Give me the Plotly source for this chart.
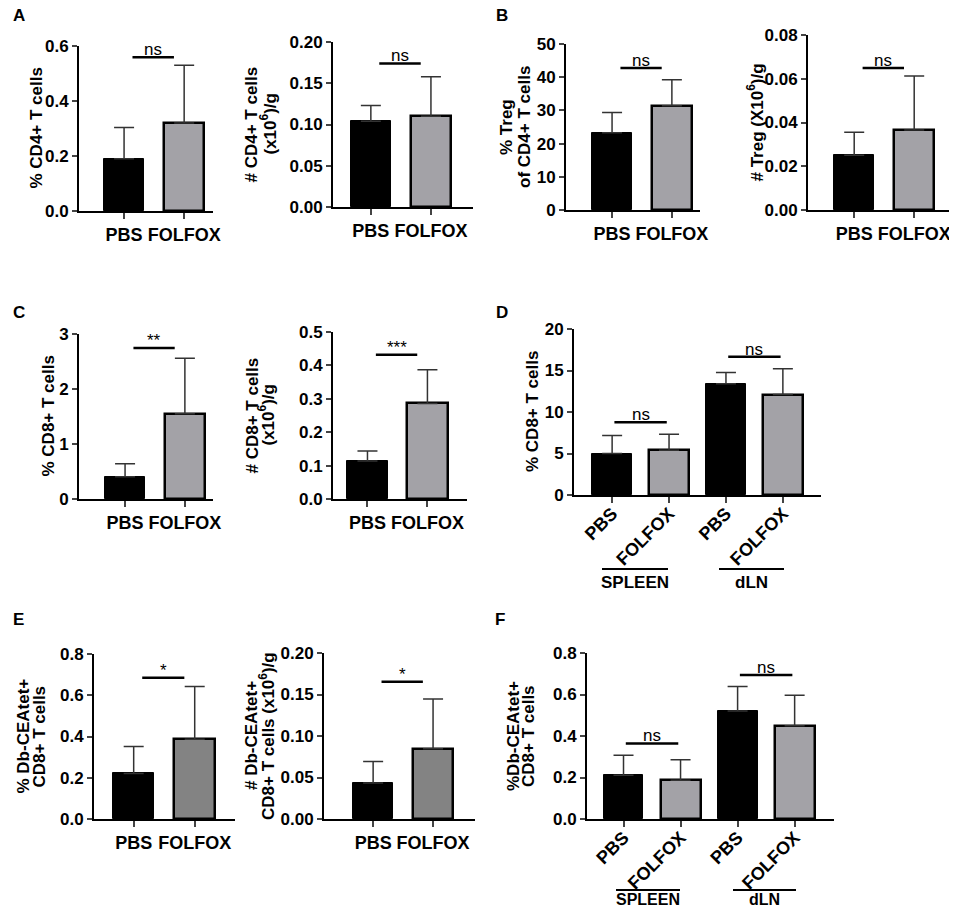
import plotly.graph_objects as go

# reference canvas; the page body adds an 8px margin, so the figure is drawn 16px smaller
W, H = 957, 914
OFF = 8
FONT = "Liberation Sans, Arial, sans-serif"

# ---- data ----
two_groups = ["PBS", "FOLFOX"]
four_groups = ["PBS", "FOLFOX", "PBS", "FOLFOX"]
tissues = ["SPLEEN", "dLN"]

a1_mean = [0.19, 0.32]
a1_err = [0.114, 0.21]
a2_mean = [0.104, 0.110]
a2_err = [0.019, 0.048]
b1_mean = [23.3, 31.4]
b1_err = [6.1, 7.8]
b2_mean = [0.025, 0.0366]
b2_err = [0.0105, 0.0247]
c1_mean = [0.406, 1.55]
c1_err = [0.236, 1.01]
c2_mean = [0.114, 0.286]
c2_err = [0.030, 0.101]
d_mean = [5.0, 5.4, 13.4, 12.1]
d_err = [2.17, 1.93, 1.37, 3.1]
e1_mean = [0.221, 0.387]
e1_err = [0.131, 0.255]
e2_mean = [0.0434, 0.0847]
e2_err = [0.026, 0.060]
f_mean = [0.211, 0.187, 0.521, 0.449]
f_err = [0.096, 0.098, 0.118, 0.147]

# significance: (left bar, right bar, height, label)
a1_sig = [(0, 1, 0.559, "ns")]
a2_sig = [(0, 1, 0.174, "ns")]
b1_sig = [(0, 1, 42.8, "ns")]
b2_sig = [(0, 1, 0.0649, "ns")]
c1_sig = [(0, 1, 2.745, "**")]
c2_sig = [(0, 1, 0.432, "***")]
d_sig = [(0, 1, 8.77, "ns"), (2, 3, 16.66, "ns")]
e1_sig = [(0, 1, 0.685, "*")]
e2_sig = [(0, 1, 0.1655, "*")]
f_sig = [(0, 1, 0.364, "ns"), (2, 3, 0.694, "ns")]

GREY = "#a3a2a7"
DARK_GREY = "#838383"

# ---- panel layout (pixel boxes in reference coordinates) ----
panels = [
    dict(mean=a1_mean, err=a1_err, sig=a1_sig, labels=two_groups, box=(79, 213, 46, 211),
         xr=[-0.75, 1.48], yr=[0, 0.6], dt=0.2, fmt=".1f", grey=GREY,
         title=[(36, "% CD4+ T cells")]),
    dict(mean=a2_mean, err=a2_err, sig=a2_sig, labels=two_groups, box=(333, 473, 42, 207),
         xr=[-0.63, 1.70], yr=[0, 0.20], dt=0.05, fmt=".2f", grey=GREY,
         title=[(251, "# CD4+ T cells"), (268, "(x10<sup>6</sup>)/g")]),
    dict(mean=b1_mean, err=b1_err, sig=b1_sig, labels=two_groups, box=(566, 700, 44, 210),
         xr=[-0.77, 1.47], yr=[0, 50], dt=10, fmt="d", grey=GREY,
         title=[(507, "% Treg"), (525, "of CD4+ T cells")]),
    dict(mean=b2_mean, err=b2_err, sig=b2_sig, labels=two_groups, box=(808, 949, 35, 210),
         xr=[-0.77, 1.58], yr=[0, 0.08], dt=0.02, fmt=".2f", grey=GREY,
         title=[(756, "# Treg (X10<sup>6</sup>)/g")]),
    dict(mean=c1_mean, err=c1_err, sig=c1_sig, labels=two_groups, box=(79, 213, 334, 499),
         xr=[-0.77, 1.47], yr=[0, 3], dt=1, fmt="d", grey=GREY,
         title=[(48, "% CD8+ T cells")]),
    dict(mean=c2_mean, err=c2_err, sig=c2_sig, labels=two_groups, box=(333, 467, 332, 499),
         xr=[-0.575, 1.66], yr=[0, 0.5], dt=0.1, fmt=".1f", grey=GREY,
         title=[(252, "# CD8+ T cells"), (267, "(x10<sup>6</sup>)/g")]),
    dict(mean=d_mean, err=d_err, sig=d_sig, labels=four_groups, box=(574, 821, 329, 495),
         xr=[-0.67, 3.67], yr=[0, 20], dt=5, fmt="d", grey=GREY,
         title=[(532, "% CD8+ T cells")],
         groups=dict(line_y=569, text_y=582, size=17, spans=[(602, 668), (719, 784)])),
    dict(mean=e1_mean, err=e1_err, sig=e1_sig, labels=two_groups, box=(94, 235, 654, 819),
         xr=[-0.65, 1.66], yr=[0, 0.8], dt=0.2, fmt=".1f", grey=DARK_GREY,
         title=[(23, "% Db-CEAtet+"), (39, "CD8+ T cells")]),
    dict(mean=e2_mean, err=e2_err, sig=e2_sig, labels=two_groups, box=(324, 475, 653, 819),
         xr=[-0.82, 1.70], yr=[0, 0.20], dt=0.05, fmt=".2f", grey=DARK_GREY,
         title=[(251, "# Db-CEAtet+"), (267, "CD8+ T cells (x10<sup>6</sup>)/g")]),
    dict(mean=f_mean, err=f_err, sig=f_sig, labels=four_groups, box=(587, 834, 653, 819),
         xr=[-0.64, 3.69], yr=[0, 0.8], dt=0.2, fmt=".1f", grey=GREY,
         title=[(513, "%Db-CEAtet+"), (528, "CD8+ T cells")],
         groups=dict(line_y=890, text_y=899, size=16, spans=[(616, 680), (733, 796)])),
]

letters = [("A", 19, 16), ("B", 502, 16), ("C", 19, 313), ("D", 502, 313), ("E", 18, 619), ("F", 500, 619)]

FW, FH = W - 2 * OFF, H - 2 * OFF


def px(x):
    return min(1.0, max(0.0, (x - OFF) / FW))


def py(y):
    return min(1.0, max(0.0, 1 - (y - OFF) / FH))


fig = go.Figure()
annotations = []
shapes = []

for i, p in enumerate(panels, start=1):
    xa = "x" if i == 1 else f"x{i}"
    ya = "y" if i == 1 else f"y{i}"
    n = len(p["mean"])
    xs = list(range(n))
    colors = ["black" if j % 2 == 0 else p["grey"] for j in xs]
    widths = [1 if j % 2 == 0 else 2.5 for j in xs]
    bw = 0.67 if n == 2 else 0.70

    fig.add_trace(go.Bar(
        x=xs, y=p["mean"], xaxis=xa, yaxis=ya, width=bw,
        marker=dict(color=colors, line=dict(color="black", width=widths)),
        error_y=dict(type="data", array=p["err"], arrayminus=[0] * n, symmetric=False,
                     color="#333333", thickness=1.5, width=10),
        showlegend=False, hoverinfo="skip",
    ))

    L, R, T, B = p["box"]
    tick_font = dict(family=FONT, size=17, color="black", weight="bold")
    fig.layout[("xaxis" if i == 1 else f"xaxis{i}")] = dict(
        domain=[px(L), px(R)], anchor=ya, range=p["xr"], tickvals=xs, ticktext=p["labels"],
        tickangle=0 if n == 2 else -45, ticks="outside", ticklen=6, tickwidth=1.5,
        ticklabelstandoff=0 if n == 2 else -7, ticklabeloverflow="allow",
        showline=True, linecolor="black", linewidth=2, showgrid=False, zeroline=False,
        tickfont=dict(tick_font, size=18), fixedrange=True, automargin=False,
    )
    fig.layout[("yaxis" if i == 1 else f"yaxis{i}")] = dict(
        domain=[py(B), py(T)], anchor=xa, range=p["yr"], dtick=p["dt"], tick0=0,
        tickformat=p["fmt"], ticks="outside", ticklen=5, tickwidth=2,
        showline=True, linecolor="black", linewidth=2, showgrid=False, zeroline=False,
        tickfont=tick_font, fixedrange=True, automargin=False,
    )

    # y-axis titles, one annotation per line
    yc = py((T + B) / 2)
    for tx, txt in p["title"]:
        annotations.append(dict(
            x=px(tx), y=yc, xref="paper", yref="paper", text=txt, textangle=-90,
            showarrow=False, xanchor="center", yanchor="middle",
            font=dict(family=FONT, size=17, color="black", weight="bold"),
        ))

    # significance bars
    off_l, off_r = (0.14, 0.17) if n == 2 else (0.04, 0.04)
    for a, b, h, lab in p["sig"]:
        x0, x1 = xs[a] + off_l, xs[b] - off_r
        shapes.append(dict(type="line", xref=xa, yref=ya, x0=x0, x1=x1, y0=h, y1=h,
                           line=dict(color="black", width=2.5)))
        annotations.append(dict(
            x=(x0 + x1) / 2, y=h, xref=xa, yref=ya, text=lab, showarrow=False,
            xanchor="center", yanchor="bottom", yshift=-4,
            font=dict(family=FONT, size=17, color="black"),
        ))

    # tissue group brackets under rotated labels
    if "groups" in p:
        g = p["groups"]
        for (gx0, gx1), name in zip(g["spans"], tissues):
            shapes.append(dict(type="line", xref="paper", yref="paper",
                               x0=px(gx0), x1=px(gx1), y0=py(g["line_y"]), y1=py(g["line_y"]),
                               line=dict(color="black", width=2)))
            annotations.append(dict(
                x=px((gx0 + gx1) / 2), y=py(g["text_y"]), xref="paper", yref="paper",
                text=name, showarrow=False, xanchor="center", yanchor="middle",
                font=dict(family=FONT, size=g["size"], color="black", weight="bold"),
            ))

for lab, lx, ly in letters:
    annotations.append(dict(
        x=px(lx), y=py(ly), xref="paper", yref="paper", text=lab, showarrow=False,
        xanchor="center", yanchor="middle",
        font=dict(family=FONT, size=17, color="black", weight="bold"),
    ))

fig.update_layout(
    width=FW, height=FH, margin=dict(l=0, r=0, t=0, b=0, autoexpand=False),
    paper_bgcolor="white", plot_bgcolor="white",
    annotations=annotations, shapes=shapes, bargap=0,
)

fig.write_html("out.html")
